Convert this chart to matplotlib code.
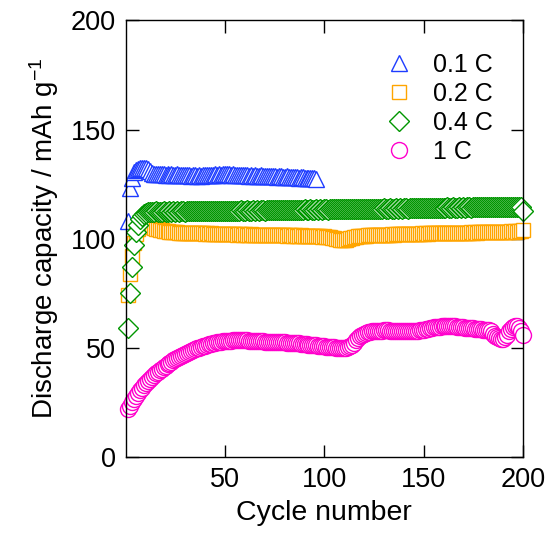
import matplotlib
matplotlib.use("Agg")
import matplotlib.pyplot as plt

plt.rcParams['font.family'] = ['Liberation Sans', 'DejaVu Sans']
plt.rcParams['mathtext.fontset'] = 'custom'
plt.rcParams['mathtext.rm'] = 'Liberation Sans'
plt.rcParams['mathtext.it'] = 'Liberation Sans'

# discharge capacity (mAh/g) per cycle
cap_01C = [108, 123, 128, 130.5, 131.5, 132, 132.3, 132.5, 132.5, 132.3,
           132, 131, 130.2, 129.8, 129.7, 129.6, 129.8, 129.5, 129.6, 129.4,
           129.5, 129.3, 129.6, 129.4, 129.2, 129.5, 129.3, 129.2, 129.4, 129.1,
           129.0, 129.2, 128.9, 129.0, 129.1, 128.8, 129.0, 128.9, 129.1, 129.0,
           129.2, 129.3, 129.1, 129.4, 129.5, 129.3, 129.6, 129.4, 129.5, 129.7,
           129.5, 129.6, 129.4, 129.5, 129.3, 129.4, 129.2, 129.3, 129.1, 129.0,
           129.2, 128.9, 129.0, 128.8, 129.1, 128.9, 128.8, 129.0, 128.7, 128.8,
           128.6, 128.8, 128.5, 128.7, 128.6, 128.4, 128.5, 128.6, 128.3, 128.4,
           128.5, 128.2, 128.3, 128.4, 128.1, 128.2, 128.0, 128.2, 128.1, 127.9,
           128.0, 127.8, 127.9, 127.7, 127.6, 127.2]

cap_02C = [74, 84, 92, 98, 102, 104.5, 106, 106.8, 107, 106.8,
           106.3, 105.8, 105.3, 104.9, 104.6, 104.3, 104.0, 103.8, 103.6, 103.4,
           103.3, 103.2, 103.1, 103.0, 102.9, 102.9, 102.8, 102.8, 102.7, 102.7,
           102.6, 102.7, 102.5, 102.6, 102.5, 102.4, 102.6, 102.4, 102.5, 102.3,
           102.4, 102.3, 102.4, 102.2, 102.3, 102.2, 102.3, 102.1, 102.2, 102.2,
           102.1, 102.2, 102.0, 102.1, 102.1, 101.9, 102.0, 102.1, 101.9, 102.0,
           101.9, 101.8, 102.0, 101.8, 101.9, 101.7, 101.8, 101.9, 101.7, 101.8,
           101.6, 101.7, 101.8, 101.6, 101.7, 101.5, 101.6, 101.7, 101.5, 101.6,
           101.4, 101.5, 101.6, 101.4, 101.5, 101.3, 101.4, 101.5, 101.3, 101.4,
           101.2, 101.3, 101.4, 101.2, 101.3, 101.1, 101.2, 101.1, 101.0, 101.1,
           101.0, 100.8, 100.6, 100.4, 100.2, 100.0, 99.8, 99.6, 99.5, 99.5,
           99.6, 99.8, 100.1, 100.4, 100.7, 101.0, 101.1, 101.2, 101.3, 101.4,
           101.4, 101.5, 101.5, 101.6, 101.6, 101.7, 101.7, 101.8, 101.8, 101.8,
           101.9, 101.8, 101.9, 102.0, 101.9, 102.0, 102.1, 102.0, 102.1, 102.1,
           102.2, 102.1, 102.2, 102.3, 102.2, 102.3, 102.2, 102.3, 102.4, 102.3,
           102.4, 102.3, 102.4, 102.5, 102.4, 102.5, 102.4, 102.5, 102.6, 102.5,
           102.6, 102.5, 102.6, 102.7, 102.6, 102.7, 102.6, 102.7, 102.8, 102.7,
           102.8, 102.7, 102.8, 102.9, 102.8, 102.9, 102.8, 102.9, 103.0, 102.9,
           103.0, 102.9, 103.0, 103.1, 103.0, 103.1, 103.0, 103.1, 103.2, 103.1,
           103.2, 103.1, 103.2, 103.3, 103.2, 103.3, 103.2, 103.3, 103.4, 104.0]

cap_04C = [59, 75, 87, 97, 103, 106.5, 109, 110.5, 111.5, 112.0,
           112.3, 112.1, 112.4, 112.2, 112.5, 112.3, 112.4, 112.2, 112.5, 112.4,
           112.4, 112.5, 112.3, 112.5, 112.4, 112.6, 112.4, 112.5, 112.6, 112.4,
           112.5, 112.6, 112.5, 112.7, 112.5, 112.6, 112.7, 112.5, 112.6, 112.7,
           112.6, 112.8, 112.6, 112.7, 112.8, 112.6, 112.7, 112.8, 112.7, 112.9,
           112.7, 112.8, 112.9, 112.7, 112.8, 112.9, 112.8, 113.0, 112.8, 112.9,
           113.0, 112.8, 112.9, 113.0, 112.9, 113.1, 112.9, 113.0, 113.1, 112.9,
           113.0, 113.1, 113.0, 113.2, 113.0, 113.1, 113.2, 113.0, 113.1, 113.2,
           113.1, 113.3, 113.1, 113.2, 113.3, 113.1, 113.2, 113.3, 113.2, 113.4,
           113.2, 113.3, 113.4, 113.2, 113.3, 113.4, 113.3, 113.5, 113.3, 113.4,
           113.5, 113.3, 113.4, 113.5, 113.4, 113.6, 113.4, 113.5, 113.6, 113.4,
           113.5, 113.6, 113.5, 113.7, 113.5, 113.6, 113.7, 113.5, 113.6, 113.7,
           113.6, 113.8, 113.6, 113.7, 113.8, 113.6, 113.7, 113.8, 113.7, 113.9,
           113.7, 113.8, 113.9, 113.7, 113.8, 113.9, 113.8, 114.0, 113.8, 113.9,
           114.0, 113.8, 113.9, 114.0, 113.9, 114.1, 113.9, 114.0, 114.1, 113.9,
           114.0, 114.1, 114.0, 114.2, 114.0, 114.1, 114.2, 114.0, 114.1, 114.2,
           114.1, 114.3, 114.1, 114.2, 114.3, 114.1, 114.2, 114.3, 114.2, 114.4,
           114.2, 114.3, 114.4, 114.2, 114.3, 114.4, 114.3, 114.5, 114.3, 114.4,
           114.5, 114.3, 114.4, 114.5, 114.4, 114.6, 114.4, 114.5, 114.6, 114.4,
           114.5, 114.6, 114.5, 114.6, 114.4, 114.5, 114.6, 114.4, 114.3, 112.6]

cap_1C = [22, 23.5, 25, 26.5, 28, 29.3, 30.5, 31.7, 32.8, 33.8,
          34.8, 35.7, 36.6, 37.5, 38.3, 39.1, 39.8, 40.5, 41.2, 41.9,
          42.5, 43.1, 43.7, 44.3, 44.8, 45.3, 45.8, 46.3, 46.8, 47.2,
          47.7, 48.1, 48.5, 48.9, 49.3, 49.7, 50.0, 50.4, 50.7, 51.0,
          51.3, 51.6, 51.9, 52.1, 52.3, 52.5, 52.7, 52.8, 53.0, 53.1,
          53.2, 53.3, 53.3, 53.4, 53.4, 53.4, 53.5, 53.5, 53.4, 53.4,
          53.4, 53.3, 53.3, 53.2, 53.2, 53.1, 53.1, 53.0, 53.0, 52.9,
          52.9, 52.8, 52.8, 52.8, 52.7, 52.7, 52.6, 52.6, 52.5, 52.5,
          52.4, 52.4, 52.3, 52.3, 52.2, 52.1, 52.0, 51.9, 51.8, 51.7,
          51.6, 51.5, 51.4, 51.3, 51.2, 51.1, 51.0, 50.9, 50.8, 50.7,
          50.6, 50.5, 50.4, 50.3, 50.2, 50.1, 50.0, 50.0, 49.9, 49.9,
          50.0, 50.3, 50.8, 51.5, 52.4, 53.4, 54.4, 55.3, 56.0, 56.5,
          56.9, 57.2, 57.4, 57.6, 57.7, 57.8, 57.8, 57.9, 57.9, 58.0,
          58.0, 58.0, 57.9, 57.9, 57.8, 57.8, 57.7, 57.7, 57.6, 57.6,
          57.6, 57.5, 57.5, 57.5, 57.6, 57.7, 57.8, 58.0, 58.2, 58.4,
          58.6, 58.8, 59.0, 59.2, 59.4, 59.5, 59.6, 59.7, 59.8, 59.9,
          60.0, 60.0, 60.0, 59.9, 59.9, 59.8, 59.7, 59.6, 59.5, 59.4,
          59.3, 59.2, 59.1, 59.0, 58.9, 58.8, 58.7, 58.6, 58.5, 58.4,
          58.3, 58.2, 58.0, 57.5, 56.5, 55.5, 54.8, 54.3, 54.0, 54.2,
          54.8, 56.0, 57.5, 58.8, 59.6, 60.0, 59.8, 59.2, 57.5, 55.8]

series = [
    (cap_01C, '0.1 C', '^', '#1e3cff', 11.5),
    (cap_02C, '0.2 C', 's', '#ffa500', 10.5),
    (cap_04C, '0.4 C', 'D', '#009600', 10.5),
    (cap_1C, '1 C', 'o', '#ff00cc', 11.5),
]

fig = plt.figure(figsize=(5.47, 5.37), dpi=100)
ax = fig.add_axes([0.230, 0.149, 0.726, 0.813])

for vals, label, mk, col, ms in series:
    cycles = list(range(1, len(vals) + 1))
    ax.plot(cycles, vals, linestyle='none', marker=mk, markersize=ms,
            markerfacecolor='white', markeredgecolor=col, markeredgewidth=1.0,
            label=label, clip_on=False)

ax.set_xlim(0, 200)
ax.set_ylim(0, 200)
ax.set_xticks([50, 100, 150, 200])
ax.set_yticks([0, 50, 100, 150, 200])
ax.tick_params(direction='in', length=9, width=1, top=True, right=True,
               labelsize=19.5, pad=7)
for sp in ax.spines.values():
    sp.set_linewidth(1)

ax.set_xlabel('Cycle number', fontsize=20.5, labelpad=5)
ax.set_ylabel('Discharge capacity / mAh g$^{-1}$', fontsize=20, labelpad=7)

ax.legend(loc='upper right', frameon=False, fontsize=18, handlelength=0.9,
          handletextpad=0.9, labelspacing=0.2, borderaxespad=0,
          bbox_to_anchor=(0.95, 0.948))

fig.savefig('out.png', dpi=100)
